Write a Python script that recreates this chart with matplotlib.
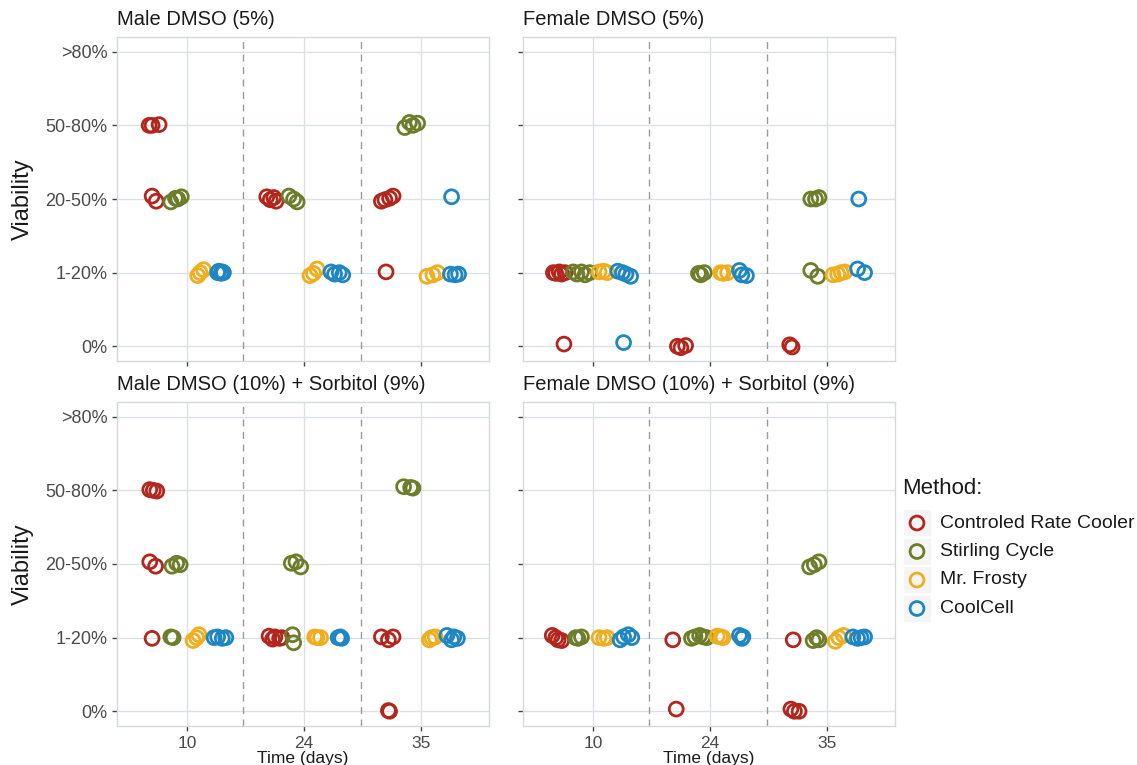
import matplotlib
matplotlib.use("Agg")
import matplotlib.pyplot as plt
from matplotlib.patches import Rectangle

plt.rcParams['font.family'] = ['Liberation Sans', 'DejaVu Sans']

TIMES = ["10", "24", "35"]
LEVELS = ["0%", "1-20%", "20-50%", "50-80%", ">80%"]
METHODS = ["Controled Rate Cooler", "Stirling Cycle", "Mr. Frosty", "CoolCell"]
COLORS = ["#B3261E", "#6E7D2A", "#F0AE1E", "#1E86C2"]
PANEL_TITLES = ["Male DMSO (5%)", "Female DMSO (5%)",
                "Male DMSO (10%) + Sorbitol (9%)", "Female DMSO (10%) + Sorbitol (9%)"]

# points: (time, method index, viability level, x jitter, y jitter)
male_dmso5 = [
    ("10", 0, "50-80%", -0.325, 0.0), ("10", 0, "50-80%", -0.30, 0.0), ("10", 0, "50-80%", -0.24, 0.01),
    ("10", 0, "20-50%", -0.30, 0.04), ("10", 0, "20-50%", -0.265, -0.03),
    ("10", 1, "20-50%", -0.14, -0.04), ("10", 1, "20-50%", -0.10, 0.01), ("10", 1, "20-50%", -0.08, 0.0), ("10", 1, "20-50%", -0.05, 0.03),
    ("10", 2, "1-20%", 0.09, -0.04), ("10", 2, "1-20%", 0.14, 0.04), ("10", 2, "1-20%", 0.11, 0.0),
    ("10", 3, "1-20%", 0.26, 0.0), ("10", 3, "1-20%", 0.27, 0.02), ("10", 3, "1-20%", 0.29, -0.01), ("10", 3, "1-20%", 0.30, 0.01), ("10", 3, "1-20%", 0.31, 0.0),
    ("24", 0, "20-50%", -0.32, 0.03), ("24", 0, "20-50%", -0.29, -0.01), ("24", 0, "20-50%", -0.26, 0.02), ("24", 0, "20-50%", -0.24, -0.03),
    ("24", 1, "20-50%", -0.13, 0.04), ("24", 1, "20-50%", -0.09, 0.0), ("24", 1, "20-50%", -0.06, -0.04),
    ("24", 2, "1-20%", 0.05, -0.04), ("24", 2, "1-20%", 0.08, -0.01), ("24", 2, "1-20%", 0.11, 0.05),
    ("24", 3, "1-20%", 0.23, 0.01), ("24", 3, "1-20%", 0.26, -0.02), ("24", 3, "1-20%", 0.30, 0.0), ("24", 3, "1-20%", 0.33, -0.03),
    ("35", 0, "20-50%", -0.34, -0.03), ("35", 0, "20-50%", -0.31, -0.01), ("35", 0, "20-50%", -0.27, 0.01), ("35", 0, "20-50%", -0.24, 0.04),
    ("35", 0, "1-20%", -0.30, 0.01),
    ("35", 1, "50-80%", -0.14, -0.03), ("35", 1, "50-80%", -0.10, 0.04), ("35", 1, "50-80%", -0.07, 0.0), ("35", 1, "50-80%", -0.03, 0.03),
    ("35", 2, "1-20%", 0.05, -0.05), ("35", 2, "1-20%", 0.10, -0.03), ("35", 2, "1-20%", 0.14, 0.0),
    ("35", 3, "20-50%", 0.26, 0.03),
    ("35", 3, "1-20%", 0.25, -0.02), ("35", 3, "1-20%", 0.29, -0.03), ("35", 3, "1-20%", 0.32, -0.02),
]

female_dmso5 = [
    ("10", 0, "1-20%", -0.34, 0.0), ("10", 0, "1-20%", -0.32, -0.01), ("10", 0, "1-20%", -0.29, 0.01), ("10", 0, "1-20%", -0.27, -0.02), ("10", 0, "1-20%", -0.24, 0.0),
    ("10", 0, "0%", -0.25, 0.03),
    ("10", 1, "1-20%", -0.17, 0.01), ("10", 1, "1-20%", -0.14, -0.02), ("10", 1, "1-20%", -0.10, 0.01), ("10", 1, "1-20%", -0.07, -0.03), ("10", 1, "1-20%", -0.03, 0.0),
    ("10", 2, "1-20%", 0.05, 0.01), ("10", 2, "1-20%", 0.09, 0.02), ("10", 2, "1-20%", 0.12, 0.0),
    ("10", 3, "1-20%", 0.21, 0.02), ("10", 3, "1-20%", 0.25, 0.0), ("10", 3, "1-20%", 0.28, -0.02), ("10", 3, "1-20%", 0.32, -0.05),
    ("10", 3, "0%", 0.26, 0.05),
    ("24", 0, "0%", -0.28, 0.0), ("24", 0, "0%", -0.25, -0.02), ("24", 0, "0%", -0.21, 0.01),
    ("24", 1, "1-20%", -0.10, -0.01), ("24", 1, "1-20%", -0.08, -0.03), ("24", 1, "1-20%", -0.05, 0.0),
    ("24", 2, "1-20%", 0.09, 0.0), ("24", 2, "1-20%", 0.11, -0.01), ("24", 2, "1-20%", 0.15, 0.0),
    ("24", 3, "1-20%", 0.25, 0.03), ("24", 3, "1-20%", 0.27, -0.03), ("24", 3, "1-20%", 0.31, -0.04),
    ("35", 0, "0%", -0.32, 0.02), ("35", 0, "0%", -0.30, -0.01),
    ("35", 1, "20-50%", -0.14, 0.0), ("35", 1, "20-50%", -0.10, 0.0), ("35", 1, "20-50%", -0.07, 0.02),
    ("35", 1, "1-20%", -0.14, 0.03), ("35", 1, "1-20%", -0.08, -0.05),
    ("35", 2, "1-20%", 0.05, -0.03), ("35", 2, "1-20%", 0.09, -0.02), ("35", 2, "1-20%", 0.12, 0.0), ("35", 2, "1-20%", 0.15, 0.01),
    ("35", 3, "20-50%", 0.27, 0.0),
    ("35", 3, "1-20%", 0.26, 0.05), ("35", 3, "1-20%", 0.32, 0.0),
]

male_sorb = [
    ("10", 0, "50-80%", -0.32, 0.01), ("10", 0, "50-80%", -0.29, 0.0), ("10", 0, "50-80%", -0.26, -0.01),
    ("10", 0, "20-50%", -0.32, 0.03), ("10", 0, "20-50%", -0.27, -0.03),
    ("10", 0, "1-20%", -0.30, -0.01),
    ("10", 1, "20-50%", -0.13, -0.03), ("10", 1, "20-50%", -0.09, 0.01), ("10", 1, "20-50%", -0.06, -0.01),
    ("10", 1, "1-20%", -0.14, 0.01), ("10", 1, "1-20%", -0.12, 0.0),
    ("10", 2, "1-20%", 0.05, -0.04), ("10", 2, "1-20%", 0.08, 0.0), ("10", 2, "1-20%", 0.10, 0.04),
    ("10", 3, "1-20%", 0.23, 0.0), ("10", 3, "1-20%", 0.26, 0.01), ("10", 3, "1-20%", 0.30, -0.01), ("10", 3, "1-20%", 0.33, 0.0),
    ("24", 0, "1-20%", -0.30, 0.02), ("24", 0, "1-20%", -0.27, -0.02), ("24", 0, "1-20%", -0.25, 0.01), ("24", 0, "1-20%", -0.21, -0.01), ("24", 0, "1-20%", -0.19, 0.0),
    ("24", 1, "20-50%", -0.11, 0.01), ("24", 1, "20-50%", -0.07, 0.03), ("24", 1, "20-50%", -0.03, -0.04),
    ("24", 1, "1-20%", -0.10, 0.04), ("24", 1, "1-20%", -0.09, -0.07),
    ("24", 2, "1-20%", 0.09, 0.01), ("24", 2, "1-20%", 0.11, 0.0), ("24", 2, "1-20%", 0.14, 0.0),
    ("24", 3, "1-20%", 0.29, 0.0), ("24", 3, "1-20%", 0.31, 0.01), ("24", 3, "1-20%", 0.32, -0.01),
    ("35", 0, "1-20%", -0.34, 0.01), ("35", 0, "1-20%", -0.28, -0.03), ("35", 0, "1-20%", -0.24, 0.01),
    ("35", 0, "0%", -0.28, 0.01), ("35", 0, "0%", -0.27, 0.0),
    ("35", 1, "50-80%", -0.15, 0.05), ("35", 1, "50-80%", -0.09, 0.04), ("35", 1, "50-80%", -0.07, 0.03),
    ("35", 2, "1-20%", 0.07, -0.03), ("35", 2, "1-20%", 0.09, 0.0), ("35", 2, "1-20%", 0.12, 0.01),
    ("35", 3, "1-20%", 0.22, 0.03), ("35", 3, "1-20%", 0.26, -0.03), ("35", 3, "1-20%", 0.28, 0.01), ("35", 3, "1-20%", 0.31, -0.01),
]

female_sorb = [
    ("10", 0, "1-20%", -0.35, 0.03), ("10", 0, "1-20%", -0.32, 0.0), ("10", 0, "1-20%", -0.30, -0.03), ("10", 0, "1-20%", -0.27, -0.04),
    ("10", 1, "1-20%", -0.15, 0.0), ("10", 1, "1-20%", -0.13, -0.01), ("10", 1, "1-20%", -0.10, 0.01),
    ("10", 2, "1-20%", 0.05, 0.0), ("10", 2, "1-20%", 0.09, -0.01), ("10", 2, "1-20%", 0.12, 0.0),
    ("10", 3, "1-20%", 0.23, -0.03), ("10", 3, "1-20%", 0.26, 0.01), ("10", 3, "1-20%", 0.30, 0.04), ("10", 3, "1-20%", 0.33, 0.0),
    ("24", 0, "1-20%", -0.32, -0.03),
    ("24", 0, "0%", -0.29, 0.03),
    ("24", 1, "1-20%", -0.16, -0.01), ("24", 1, "1-20%", -0.13, 0.01), ("24", 1, "1-20%", -0.09, 0.03), ("24", 1, "1-20%", -0.06, 0.01), ("24", 1, "1-20%", -0.03, 0.0),
    ("24", 2, "1-20%", 0.06, 0.02), ("24", 2, "1-20%", 0.09, 0.01), ("24", 2, "1-20%", 0.11, 0.0),
    ("24", 3, "1-20%", 0.25, 0.03), ("24", 3, "1-20%", 0.27, -0.01), ("24", 3, "1-20%", 0.28, 0.01),
    ("35", 0, "1-20%", -0.29, -0.03),
    ("35", 0, "0%", -0.31, 0.03), ("35", 0, "0%", -0.28, 0.0), ("35", 0, "0%", -0.24, 0.0),
    ("35", 1, "20-50%", -0.15, -0.04), ("35", 1, "20-50%", -0.11, -0.01), ("35", 1, "20-50%", -0.07, 0.03),
    ("35", 1, "1-20%", -0.12, -0.04), ("35", 1, "1-20%", -0.09, 0.0), ("35", 1, "1-20%", -0.07, -0.03),
    ("35", 2, "1-20%", 0.07, -0.05), ("35", 2, "1-20%", 0.10, 0.0), ("35", 2, "1-20%", 0.14, 0.03),
    ("35", 3, "1-20%", 0.22, 0.01), ("35", 3, "1-20%", 0.26, -0.01), ("35", 3, "1-20%", 0.29, 0.0), ("35", 3, "1-20%", 0.32, 0.01),
]

PANELS = [male_dmso5, female_dmso5, male_sorb, female_sorb]

W, H = 1137, 765
fig = plt.figure(figsize=(W / 100, H / 100), dpi=100)

# axes rectangles in pixels: left, top, right, bottom
rects = [(117, 37, 489, 361), (523, 37, 895, 361),
         (117, 402, 489, 726), (523, 402, 895, 726)]

GRID = "#DCE1E8"
MS = 100
MLW = 2.0
for i, (pts, title, (l, t, r, b)) in enumerate(zip(PANELS, PANEL_TITLES, rects)):
    ax = fig.add_axes([l / W, 1 - b / H, (r - l) / W, (b - t) / H])
    ax.set_xlim(0.40, 3.58)
    ax.set_ylim(-0.2, 4.2)
    ax.set_xticks(range(1, len(TIMES) + 1))
    ax.set_yticks(range(len(LEVELS)))
    ax.grid(True, color=GRID, linewidth=1.0, zorder=0)
    ax.set_axisbelow(True)
    for s in ax.spines.values():
        s.set_color("#D5D9DE")
        s.set_linewidth(1.0)
    ax.tick_params(axis="both", length=3.5, width=1.0, color="#444444",
                   labelcolor="#4A4A4A", labelsize=13)
    for xv in (1.48, 2.49):
        ax.axvline(xv, color="#9A9A9A", linestyle=(0, (5, 4)), linewidth=1.0, zorder=1)
    for m, color in enumerate(COLORS):
        xs = [TIMES.index(tm) + 1 + dx for tm, mi, lv, dx, dy in pts if mi == m]
        ys = [LEVELS.index(lv) + dy for tm, mi, lv, dx, dy in pts if mi == m]
        ax.scatter(xs, ys, s=MS, facecolors="none", edgecolors=color,
                   linewidths=MLW, zorder=3)
    if i % 2 == 0:
        ax.set_yticklabels(LEVELS)
        ax.set_ylabel("Viability", fontsize=17, color="#1A1A1A", labelpad=8)
    else:
        ax.set_yticklabels([])
    if i >= 2:
        ax.set_xticklabels(TIMES, fontsize=12.5)
        ax.set_xlabel("Time (days)", fontsize=12.5, color="#1A1A1A", labelpad=0)
    else:
        ax.set_xticklabels([])
    ax.text(0.0, 1.025, title, transform=ax.transAxes, fontsize=14.5,
            color="#1A1A1A", ha="left", va="bottom")

# legend drawn on a figure-level overlay axes (pixel coordinates)
lax = fig.add_axes([0, 0, 1, 1], facecolor="none")
lax.set_xlim(0, W)
lax.set_ylim(H, 0)
lax.axis("off")
lax.text(902, 488, "Method:", fontsize=16, color="#1A1A1A", ha="left", va="center")
for k, (name, color) in enumerate(zip(METHODS, COLORS)):
    yk = 523 + k * 28.5
    lax.add_patch(Rectangle((904, yk - 13), 27, 26, facecolor="#F5F5F5",
                            edgecolor="none", zorder=1))
    lax.scatter([917], [yk], s=MS, facecolors="none", edgecolors=color,
                linewidths=MLW, zorder=2)
    lax.text(940, yk, name, fontsize=14, color="#1A1A1A", ha="left", va="center")

fig.savefig("out.png", dpi=100, facecolor="white")
